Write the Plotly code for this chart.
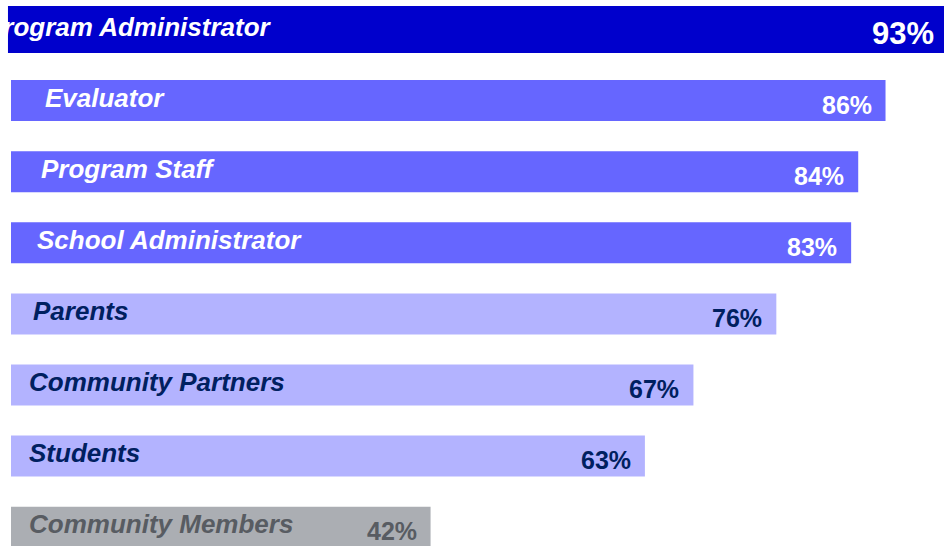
import plotly.graph_objects as go

categories = ["Program Administrator", "Evaluator", "Program Staff", "School Administrator",
              "Parents", "Community Partners", "Students", "Community Members"]
values = [93, 86.5, 83.8, 83.1, 75.7, 67.5, 62.7, 41.5]
pct_labels = ["93%", "86%", "84%", "83%", "76%", "67%", "63%", "42%"]

bar_colors = ["#0000CC", "#6666FF", "#6666FF", "#6666FF", "#B3B3FF", "#B3B3FF", "#B3B3FF", "#ABAEB3"]
text_colors = ["#FFFFFF", "#FFFFFF", "#FFFFFF", "#FFFFFF", "#002060", "#002060", "#002060", "#585C62"]
label_px = [-16, 43, 39, 35, 31, 27, 27, 27]

W, H = 944, 546
PX_PER = 10.11
X0_PX = 11
ROW = 71.1
TOP_C = 29.5

x_range = [-X0_PX / PX_PER, (W - X0_PX) / PX_PER]
y_top = -TOP_C / ROW
y_range = [y_top + H / ROW, y_top]

idx = list(range(len(categories)))

fig = go.Figure()
# highlighted top bar
fig.add_trace(go.Bar(
    x=[values[0] + 0.3], y=[idx[0]], base=[-0.3], orientation="h",
    width=[47 / ROW], marker=dict(color=bar_colors[0], line=dict(width=0)),
    hoverinfo="skip", showlegend=False))
fig.add_trace(go.Bar(
    x=values[1:], y=idx[1:], orientation="h",
    width=41 / ROW, marker=dict(color=bar_colors[1:], line=dict(width=0)),
    hoverinfo="skip", showlegend=False))

LABEL_FONT = "Liberation Sans, Arial, sans-serif"
annotations = []
for i, (c, v, p) in enumerate(zip(categories, values, pct_labels)):
    big = i == 0
    annotations.append(dict(
        x=label_px[i] / W, xref="paper", y=i, yref="y", text="<b><i>%s</i></b>" % c,
        showarrow=False, xanchor="left", yanchor="middle", yshift=3,
        font=dict(family=LABEL_FONT, size=26, color=text_colors[i])))
    if big:
        pct = dict(x=1, xref="paper", xshift=-8)
    else:
        pct = dict(x=v, xref="x", xshift=-12)
    annotations.append(dict(
        y=i, yref="y", text="<b>%s</b>" % p,
        showarrow=False, xanchor="right", yanchor="middle", yshift=-4,
        font=dict(family=LABEL_FONT, size=31 if big else 25, color=text_colors[i]), **pct))

fig.update_layout(
    width=W, height=H,
    margin=dict(l=0, r=0, t=0, b=0),
    paper_bgcolor="white", plot_bgcolor="white",
    barmode="overlay",
    xaxis=dict(range=x_range, visible=False, fixedrange=True),
    yaxis=dict(range=y_range, visible=False, fixedrange=True),
    annotations=annotations,
)

fig.write_html("out.html", config={"displayModeBar": False, "staticPlot": True},
               post_script="document.body.style.margin='0';document.body.style.overflow='hidden';")
